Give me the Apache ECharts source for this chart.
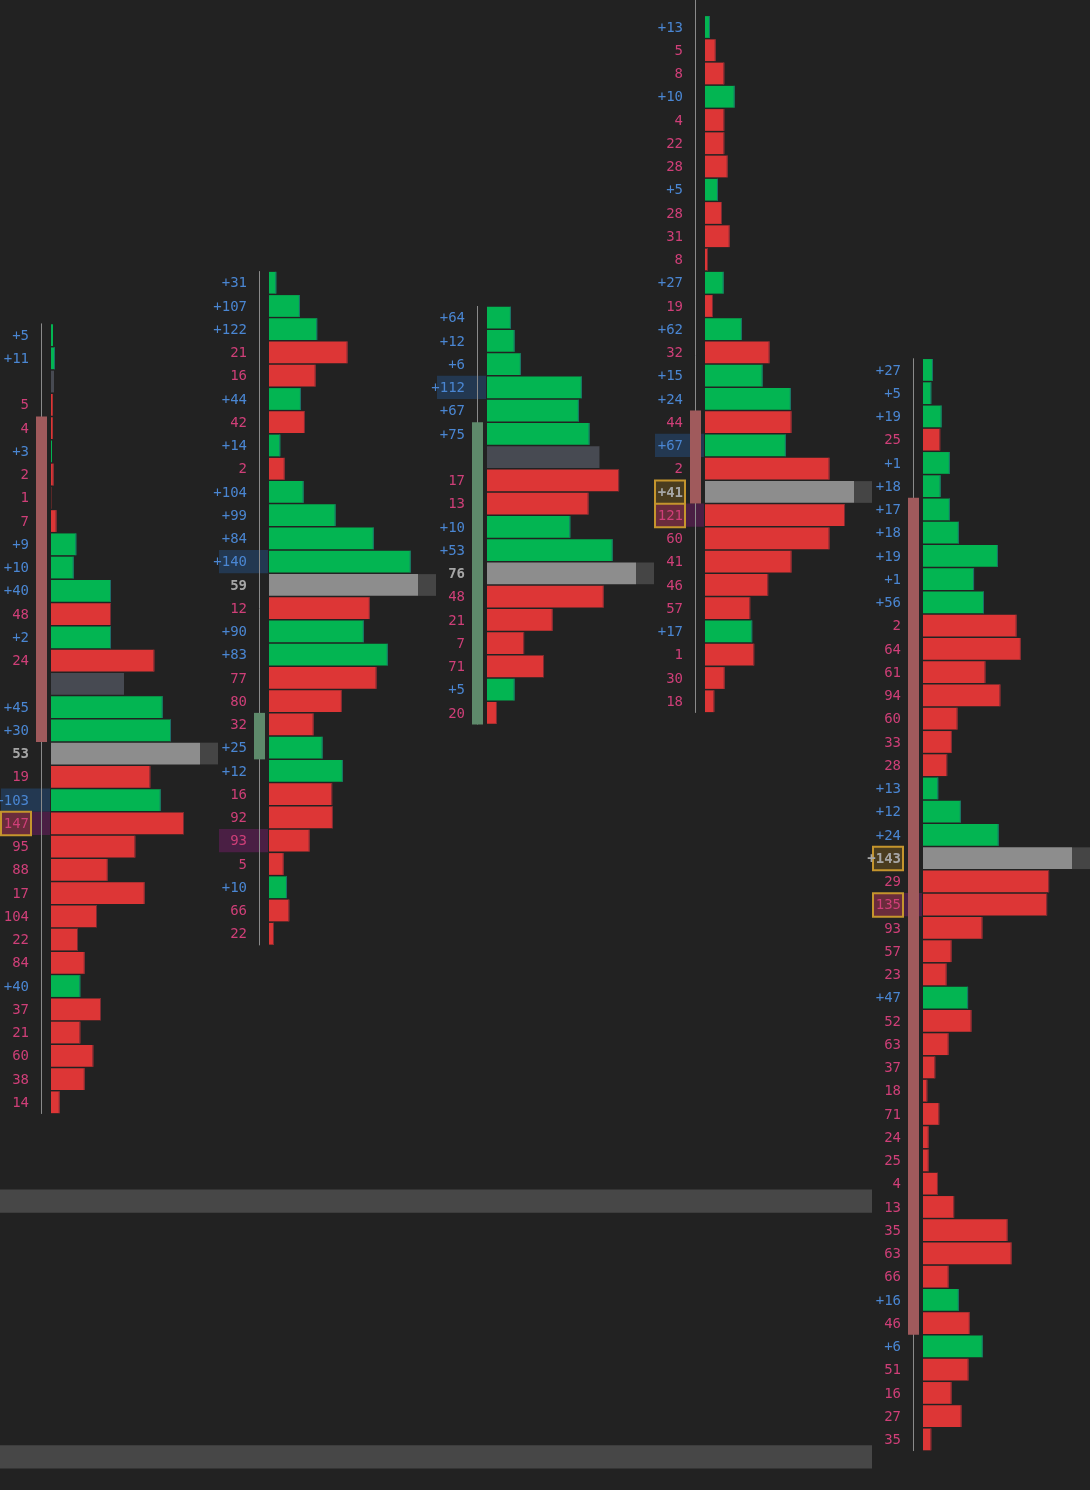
<!DOCTYPE html>
<html><head><meta charset="utf-8">
<script src="https://cdn.jsdelivr.net/npm/echarts@6/dist/echarts.min.js"></script>
<style>html,body{margin:0;padding:0;background:#222222;}#c{width:1090px;height:1490px;}</style>
</head><body><div id="c"></div>
<script>
// ---- price of the top row of each footprint column (row size 1.00, tick 0.25)
const colTopPrice = [4248.75, 4251.00, 4249.50, 4262.00, 4247.25];

// ---- deltas per row (positive = "+N", negative = "N", 0 = no label)
const col1Delta = [5, 11, 0, -5, -4, 3, -2, -1, -7, 9, 10, 40, -48, 2, -24, 0, 45, 30, -53, -19, 103, -147, -95, -88, -17, -104, -22, -84, 40, -37, -21, -60, -38, -14];
const col2Delta = [31, 107, 122, -21, -16, 44, -42, 14, -2, 104, 99, 84, 140, -59, -12, 90, 83, -77, -80, -32, 25, 12, -16, -92, -93, -5, 10, -66, -22];
const col3Delta = [64, 12, 6, 112, 67, 75, 0, -17, -13, 10, 53, -76, -48, -21, -7, -71, 5, -20];
const col4Delta = [13, -5, -8, 10, -4, -22, -28, 5, -28, -31, -8, 27, -19, 62, -32, 15, 24, -44, 67, -2, 41, -121, -60, -41, -46, -57, 17, -1, -30, -18];
const col5Delta = [27, 5, 19, -25, 1, 18, 17, 18, 19, 1, 56, -2, -64, -61, -94, -60, -33, -28, 13, 12, 24, 143, -29, -135, -93, -57, -23, 47, -52, -63, -37, -18, -71, -24, -25, -4, -13, -35, -63, -66, 16, -46, 6, -51, -16, -27, -35];

// ---- volume per row (relative units)
const col1Vol = [2, 4, 3, 1.7, 1.7, 1, 2.7, 0.3, 5.5, 25.3, 22.7, 60, 60, 60, 103.3, 73, 111.7, 120, 149, 99.3, 109.7, 133, 84.3, 56.7, 93.7, 46, 27, 33.7, 29.3, 50, 29.3, 42.3, 33.7, 8.7];
const col2Vol = [7.3, 31, 48.3, 78.7, 46.7, 32, 36, 11.3, 15.7, 34.7, 66.7, 105, 142, 149.3, 101, 95, 119, 107.7, 73, 44.7, 53.7, 74, 63.3, 64, 40.7, 14.7, 18, 20.3, 5];
const col3Vol = [24, 27.7, 34, 95.3, 92.3, 103, 113, 132.7, 102, 83.7, 126.3, 149.7, 117.3, 66, 37.3, 57.3, 27.7, 10];
const col4Vol = [5, 10.7, 19.3, 29.7, 19.3, 19.3, 22.7, 13, 17, 24.7, 3, 18.7, 8, 37, 64.7, 57.7, 86, 86.7, 81, 124.7, 149.3, 140.3, 124.7, 86.7, 63.3, 45.3, 47.3, 49.3, 19.7, 9.3];
const col5Vol = [10, 8.3, 18.7, 17.3, 27, 17.7, 27, 36, 75.3, 51.3, 61.3, 94, 98.3, 62.7, 77.7, 34.7, 29, 24.3, 15.3, 38, 76, 149.7, 126.7, 124.7, 59.7, 28.7, 23.7, 45.3, 48.7, 25.7, 12.3, 4.3, 16.3, 5.7, 5.7, 15, 31.3, 85, 89, 25.7, 36, 47, 60, 45.7, 28.7, 38.7, 8.3];

// ---- candle per column
const candleOpen  = [4245.25, 4230.50, 4232.00, 4245.50, 4241.75];
const candleClose = [4231.25, 4232.50, 4245.00, 4241.50, 4205.75];
const candleHigh  = [4249.25, 4251.50, 4250.00, 4263.50, 4247.75];
const candleLow   = [4215.25, 4222.50, 4232.00, 4232.50, 4200.75];

// ---- marked rows (gold boxes) per column
const goldRows = [[21], [], [], [20, 21], [21, 23]];

// ---- naked POC levels and the column they run to
const nakedPocPrice = [4211.50, 4200.50];
const nakedPocEndCol = [3, 3];

// ---- axis ranges
const Y_MAX = 4263.161, Y_MIN = 4199.075;
const X_MIN = -51 / 218, X_MAX = X_MIN + 5;
const BAR_FRAC = 149 / 218, EXT_FRAC = 167 / 218;

const GREEN = '#03b552', RED = '#dd3636', ZERO = '#474a52', POCC = '#8d8d8d', EXTC = '#454545';
const BLUE_T = '#4a86d2', PINK_T = '#cf3f78', GRAY_T = '#a6a6a6';
const FONT = '14px "DejaVu Sans Mono", monospace';

const deltas = [col1Delta, col2Delta, col3Delta, col4Delta, col5Delta];
const vols = [col1Vol, col2Vol, col3Vol, col4Vol, col5Vol];

const rowData = [];
const hiData = [];
deltas.forEach((dl, k) => {
  const vl = vols[k];
  const maxV = Math.max(...vl);
  const poc = vl.indexOf(maxV);
  let iPos = 0, iNeg = 0;
  dl.forEach((d, i) => { if (d > dl[iPos]) iPos = i; if (d < dl[iNeg]) iNeg = i; });
  if (iPos !== poc && dl[iPos] > 0) hiData.push([k, colTopPrice[k] - iPos, 1]);
  if (iNeg !== poc && dl[iNeg] < 0) hiData.push([k, colTopPrice[k] - iNeg, 2]);
  dl.forEach((d, i) => {
    rowData.push([k, colTopPrice[k] - i, vl[i] / maxV, d, i, i === poc ? 1 : 0, goldRows[k].indexOf(i) >= 0 ? 1 : 0]);
  });
});
const candleData = candleOpen.map((o, k) => [k, o, candleClose[k], candleHigh[k], candleLow[k]]);
const nakedData = nakedPocPrice.map((p, i) => [nakedPocEndCol[i], p]);

function renderRow(params, api) {
  const k = api.value(0), p = api.value(1), frac = api.value(2), d = api.value(3);
  const isPoc = api.value(5), gold = api.value(6);
  const s = api.coord([k, p]);
  const e = api.coord([k + frac * BAR_FRAC, p]);
  const ph = api.size([0, 1])[1];
  const bh = ph - 1.5;
  const y0 = s[1] - bh / 2;
  const ch = [];
  let color = d > 0 ? GREEN : (d < 0 ? RED : ZERO);
  if (isPoc) {
    color = POCC;
    const x2 = api.coord([k + EXT_FRAC, p])[0];
    ch.push({ type: 'rect', shape: { x: e[0], y: y0, width: x2 - e[0], height: bh }, style: { fill: EXTC } });
  }
  const w = Math.max(e[0] - s[0], 0);
  ch.push({ type: 'rect', shape: { x: s[0], y: y0, width: w, height: bh }, style: { fill: color } });
  if (!isPoc && w > 2 && d !== 0) {
    ch.push({ type: 'rect', shape: { x: e[0] - 1, y: y0, width: 1, height: bh }, style: { fill: d > 0 ? '#1d6f6a' : '#7c2b33' } });
  }
  if (gold) {
    ch.push({ type: 'rect', shape: { x: s[0] - 50, y: s[1] - 11.5, width: 30, height: 23.5 },
      style: { fill: isPoc ? '#4a3c1f' : '#6a2c3c', stroke: '#c5952d', lineWidth: 2 } });
  }
  if (d !== 0) {
    ch.push({ type: 'text', style: { text: (d > 0 ? '+' : '') + Math.abs(d), x: s[0] - 22, y: s[1] + 1,
      fill: isPoc ? GRAY_T : (d > 0 ? BLUE_T : PINK_T), font: isPoc ? 'bold ' + FONT : FONT,
      align: 'right', verticalAlign: 'middle' } });
  }
  return { type: 'group', children: ch };
}

function renderHi(params, api) {
  const k = api.value(0), p = api.value(1), t = api.value(2);
  const s = api.coord([k, p]);
  const ph = api.size([0, 1])[1];
  return { type: 'rect', shape: { x: s[0] - 50, y: s[1] - ph / 2, width: 49, height: ph },
    style: { fill: t === 1 ? '#233851' : '#4a1f44' } };
}

function renderCandle(params, api) {
  const k = api.value(0);
  const o = api.coord([k, api.value(1)]), c = api.coord([k, api.value(2)]);
  const h = api.coord([k, api.value(3)]), l = api.coord([k, api.value(4)]);
  const up = api.value(2) > api.value(1);
  const cx = o[0] - 9.5;
  return { type: 'group', children: [
    { type: 'line', shape: { x1: cx, y1: h[1], x2: cx, y2: l[1] }, style: { stroke: '#8a8a8a', lineWidth: 1 } },
    { type: 'rect', shape: { x: o[0] - 15, y: Math.min(o[1], c[1]), width: 11, height: Math.abs(c[1] - o[1]) },
      style: { fill: up ? '#5e8a6b' : '#a05a5c' } }
  ] };
}

function renderNaked(params, api) {
  const endCol = api.value(0), p = api.value(1);
  const e = api.coord([endCol + EXT_FRAC, p]);
  const ph = api.size([0, 1])[1];
  const left = params.coordSys.x;
  return { type: 'rect', shape: { x: left, y: e[1] - ph / 2, width: e[0] - left, height: ph }, style: { fill: '#474747' } };
}

const chart = echarts.init(document.getElementById('c'), null, { renderer: 'canvas' });
chart.setOption({
  backgroundColor: '#222222',
  animation: false,
  grid: { left: 0, right: 0, top: 0, bottom: 0 },
  xAxis: { type: 'value', min: X_MIN, max: X_MAX, show: false },
  yAxis: { type: 'value', min: Y_MIN, max: Y_MAX, show: false },
  series: [
    { type: 'custom', renderItem: renderNaked, data: nakedData, z: 1, clip: false },
    { type: 'custom', renderItem: renderHi, data: hiData, z: 2, clip: false },
    { type: 'custom', renderItem: renderCandle, data: candleData, z: 3, clip: false },
    { type: 'custom', renderItem: renderRow, data: rowData, z: 4, clip: false }
  ]
});
</script></body></html>
